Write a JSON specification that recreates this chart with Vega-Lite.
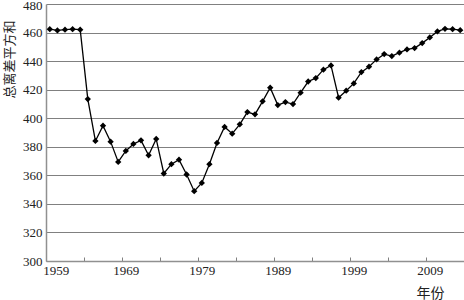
{
  "$schema": "https://vega.github.io/schema/vega-lite/v6.json",
  "width": 418,
  "height": 257,
  "autosize": "none",
  "padding": {"left": 46, "top": 4, "right": 0, "bottom": 39},
  "background": "white",
  "config": {
    "view": {"stroke": null},
    "axis": {"labelFont": "Liberation Serif", "titleFont": "Noto Sans CJK SC", "labelColor": "#222", "titleColor": "#222"}
  },
  "data": {"values": [
    {"year": 1959, "v": 462.4}, {"year": 1960, "v": 461.5}, {"year": 1961, "v": 462.0}, {"year": 1962, "v": 462.4}, {"year": 1963, "v": 462.0},
    {"year": 1964, "v": 413.4}, {"year": 1965, "v": 384.1}, {"year": 1966, "v": 394.8}, {"year": 1967, "v": 383.6}, {"year": 1968, "v": 369.4},
    {"year": 1969, "v": 377.1}, {"year": 1970, "v": 382.0}, {"year": 1971, "v": 384.5}, {"year": 1972, "v": 374.0}, {"year": 1973, "v": 385.5},
    {"year": 1974, "v": 361.3}, {"year": 1975, "v": 367.8}, {"year": 1976, "v": 371.0}, {"year": 1977, "v": 360.6}, {"year": 1978, "v": 348.9},
    {"year": 1979, "v": 354.7}, {"year": 1980, "v": 367.8}, {"year": 1981, "v": 382.7}, {"year": 1982, "v": 393.9}, {"year": 1983, "v": 389.2},
    {"year": 1984, "v": 395.7}, {"year": 1985, "v": 404.3}, {"year": 1986, "v": 402.7}, {"year": 1987, "v": 411.8}, {"year": 1988, "v": 421.4},
    {"year": 1989, "v": 409.2}, {"year": 1990, "v": 411.3}, {"year": 1991, "v": 409.9}, {"year": 1992, "v": 417.9}, {"year": 1993, "v": 425.7},
    {"year": 1994, "v": 428.1}, {"year": 1995, "v": 434.0}, {"year": 1996, "v": 437.0}, {"year": 1997, "v": 414.4}, {"year": 1998, "v": 419.3},
    {"year": 1999, "v": 424.4}, {"year": 2000, "v": 432.3}, {"year": 2001, "v": 436.1}, {"year": 2002, "v": 441.2}, {"year": 2003, "v": 444.9},
    {"year": 2004, "v": 443.5}, {"year": 2005, "v": 445.9}, {"year": 2006, "v": 448.2}, {"year": 2007, "v": 449.1}, {"year": 2008, "v": 452.6},
    {"year": 2009, "v": 456.6}, {"year": 2010, "v": 460.8}, {"year": 2011, "v": 462.6}, {"year": 2012, "v": 462.4}, {"year": 2013, "v": 461.7}
  ]},
  "encoding": {
    "x": {"field": "year", "type": "quantitative", "scale": {"domain": [1958.5, 2013.5], "nice": false, "zero": false},
      "axis": {"values": [1959, 1963.5, 1968.5, 1969, 1973.5, 1978.5, 1979, 1983.5, 1988.5, 1989, 1993.5, 1998.5, 1999, 2003.5, 2008.5, 2009, 2013.5],
        "labelExpr": "datum.value % 1 == 0 ? format(datum.value, 'd') : ''",
        "labelOverlap": false, "labelFontSize": 13, "labelPadding": 7,
        "labelOffset": {"condition": {"test": "datum.value == 1959", "value": 6}, "value": 0},
        "grid": false, "ticks": true, "tickSize": -4, "tickColor": "#808080", "tickWidth": 1,
        "tickOpacity": {"condition": {"test": "datum.value % 1 == 0", "value": 0}, "value": 1},
        "domain": true, "domainColor": "#909090", "domainWidth": 1.5,
        "title": "年份", "titleFontSize": 14, "titleFontWeight": "normal", "titleX": 384, "titleY": 32, "titleAlign": "center", "titleBaseline": "middle"}},
    "y": {"field": "v", "type": "quantitative", "scale": {"domain": [300, 480], "nice": false, "zero": false},
      "axis": {"values": [300, 320, 340, 360, 380, 400, 420, 440, 460, 480], "grid": true, "gridColor": "#808080", "gridWidth": 1,
        "ticks": false, "domain": true, "domainColor": "#909090", "domainWidth": 1.5,
        "labelFontSize": 13, "labelPadding": 4, "labelOverlap": false,
        "labelOffset": {"condition": {"test": "datum.value == 480", "value": 1.5}, "value": 0},
        "title": "总离差平方和", "titleFontSize": 13, "titleFontWeight": "normal", "titleX": -37, "titleY": 55, "titleAngle": 270, "titleAlign": "center", "titleBaseline": "middle"}}
  },
  "layer": [
    {
      "mark": {"type": "line", "color": "black", "strokeWidth": 1.3}
    },
    {
      "mark": {"type": "point", "shape": "diamond", "filled": true, "color": "black", "size": 40, "opacity": 1}
    }
  ]
}
